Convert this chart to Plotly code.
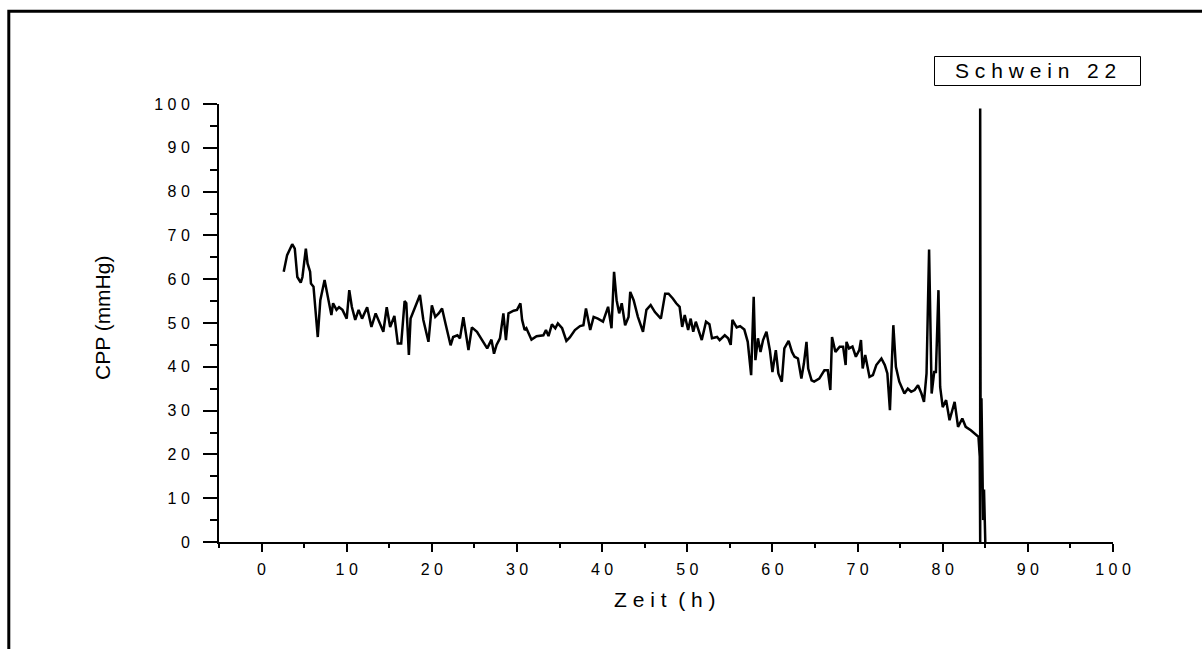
import plotly.graph_objects as go

# ---- data ----
zeit_h = [2.6, 3.0, 3.6, 3.9, 4.2, 4.6, 4.8, 5.2, 5.4, 5.7,
          5.8, 6.1, 6.6, 6.9, 7.4, 7.8, 8.2, 8.4, 8.8, 9.1,
          9.5, 10.0, 10.3, 10.6, 11.0, 11.4, 11.8, 12.4, 12.9, 13.4,
          13.8, 14.3, 14.7, 15.1, 15.6, 16.0, 16.4, 16.8, 17.0, 17.3,
          17.5, 18.6, 19.0, 19.6, 20.0, 20.4, 20.8, 21.2, 21.6, 22.2,
          22.5, 23.0, 23.3, 23.7, 24.3, 24.7, 25.3, 26.1, 26.5, 27.0,
          27.3, 27.6, 28.0, 28.4, 28.7, 29.0, 29.6, 30.0, 30.4, 30.6,
          30.9, 31.1, 31.7, 32.3, 33.1, 33.4, 33.7, 34.1, 34.5, 34.8,
          35.3, 35.8, 36.2, 36.8, 37.4, 37.8, 38.1, 38.6, 39.0, 39.5,
          40.1, 40.7, 41.1, 41.4, 41.7, 42.0, 42.3, 42.7, 43.1, 43.3,
          43.7, 44.2, 44.8, 45.2, 45.7, 46.2, 46.9, 47.4, 47.8, 48.3,
          48.7, 49.1, 49.4, 49.7, 50.1, 50.4, 50.7, 51.0, 51.7, 52.2,
          52.6, 52.9, 53.5, 53.8, 54.4, 54.8, 55.1, 55.3, 55.8, 56.2,
          56.7, 57.1, 57.5, 57.8, 58.0, 58.3, 58.6, 58.9, 59.3, 59.7,
          60.0, 60.4, 60.7, 61.1, 61.4, 61.9, 62.3, 62.6, 63.0, 63.4,
          63.7, 64.0, 64.2, 64.6, 64.9, 65.5, 66.1, 66.5, 66.8, 67.0,
          67.4, 67.9, 68.3, 68.6, 68.7, 69.0, 69.4, 69.8, 70.2, 70.4,
          70.6, 70.9, 71.4, 71.8, 72.2, 72.8, 73.2, 73.5, 73.8, 74.2,
          74.5, 74.9, 75.5, 75.9, 76.3, 76.7, 77.1, 77.5, 77.8, 78.1,
          78.4, 78.7, 79.0, 79.2, 79.5, 79.7, 80.0, 80.4, 80.8, 81.4,
          81.8, 82.3, 82.7, 83.3, 83.7, 84.2, 84.35, 84.4, 84.4, 84.45,
          84.55, 84.65, 84.75, 84.85, 84.95, 85.0]

cpp_mmhg = [61.7, 65.5, 68.0, 67.0, 60.5, 59.2, 60.5, 67.0, 63.6, 61.7,
            59.0, 58.3, 46.8, 55.2, 59.8, 56.0, 51.8, 54.5, 53.0, 53.6,
            53.0, 51.0, 57.5, 53.7, 50.7, 53.0, 51.0, 53.6, 49.1, 52.2,
            50.3, 48.0, 53.6, 49.1, 51.6, 45.3, 45.3, 55.0, 54.5, 42.7,
            51.0, 56.4, 50.7, 45.7, 54.0, 51.4, 52.2, 53.3, 49.9, 44.9,
            46.8, 47.2, 46.5, 51.3, 43.8, 49.0, 48.0, 45.3, 44.2, 46.2,
            43.0, 45.0, 46.5, 52.2, 46.1, 52.2, 52.8, 53.0, 54.5, 50.7,
            48.4, 48.8, 46.2, 47.0, 47.2, 48.4, 47.0, 49.7, 48.8, 49.9,
            48.8, 45.9, 46.7, 48.4, 49.3, 49.5, 53.3, 48.4, 51.4, 51.0,
            50.3, 53.7, 48.8, 61.7, 55.2, 52.2, 54.5, 49.5, 51.4, 57.1,
            55.2, 51.4, 48.0, 53.0, 54.1, 52.5, 51.0, 56.7, 56.7, 55.6,
            54.5, 53.7, 49.1, 51.8, 48.4, 51.0, 48.0, 50.3, 46.1, 50.3,
            49.7, 46.5, 46.8, 46.1, 47.2, 46.5, 45.0, 50.7, 49.0, 49.3,
            48.5, 45.7, 38.1, 56.0, 41.5, 46.5, 43.4, 46.1, 48.0, 43.8,
            38.8, 43.8, 38.5, 36.6, 44.2, 45.9, 43.4, 42.3, 41.9, 37.3,
            40.8, 45.7, 39.6, 36.9, 36.6, 37.3, 39.2, 39.2, 34.7, 46.8,
            43.4, 44.6, 44.6, 40.4, 45.7, 44.2, 44.6, 42.3, 43.8, 46.1,
            39.6, 42.7, 37.7, 38.1, 40.4, 41.9, 40.4, 38.5, 30.1, 49.5,
            40.0, 36.6, 33.9, 35.0, 34.3, 34.7, 35.8, 33.9, 32.0, 38.5,
            66.8, 33.9, 38.8, 38.8, 57.5, 35.4, 30.8, 32.4, 27.8, 32.0,
            26.3, 28.2, 26.3, 25.5, 24.8, 24.0, 19.5, 0.0, 99.0, 22.0,
            32.8, 20.0, 5.0, 12.0, 0.0, 0.0]

x_tick_vals = [0, 10, 20, 30, 40, 50, 60, 70, 80, 90, 100]
x_tick_text = ["0", "1 0", "2 0", "3 0", "4 0", "5 0", "6 0", "7 0", "8 0", "9 0", "1 0 0"]
y_tick_vals = [0, 10, 20, 30, 40, 50, 60, 70, 80, 90, 100]
y_tick_text = ["0", "1 0", "2 0", "3 0", "4 0", "5 0", "6 0", "7 0", "8 0", "9 0", "1 0 0"]

x_title = "Z e i t  ( h )"
y_title = "CPP (mmHg)"
legend_label = "S c h w e i n\u00a0\u00a0 2 2"

FONT = "Arial, Liberation Sans, sans-serif"

fig = go.Figure()
fig.add_trace(go.Scatter(x=zeit_h, y=cpp_mmhg, mode="lines",
                         line=dict(color="black", width=2.5),
                         showlegend=False, hoverinfo="skip"))

W, H = 1202, 649
L, R, T, B = 219, 89, 104, 107
pw, ph = W - L - R, H - T - B

def px_to_paper_x(px):
    return (px - L) / pw

def px_to_paper_y(py):
    return (H - B - py) / ph

fig.update_layout(
    width=W, height=H,
    margin=dict(l=L, r=R, t=T, b=B, pad=0),
    paper_bgcolor="white", plot_bgcolor="white",
    font=dict(family=FONT, color="black"),
    xaxis=dict(range=[-5, 100], showgrid=False, zeroline=False,
               showline=True, linecolor="black", linewidth=2,
               ticks="outside", ticklen=8, tickwidth=2, tickcolor="black",
               tickvals=x_tick_vals, ticktext=x_tick_text,
               tickfont=dict(size=16, family=FONT, color="black"),
               ticklabelstandoff=4,
               minor=dict(ticks="outside", ticklen=4, tickwidth=2,
                          tickcolor="black", tick0=0, dtick=5, showgrid=False),
               fixedrange=True),
    yaxis=dict(range=[0, 100], showgrid=False, zeroline=False,
               showline=True, linecolor="black", linewidth=2,
               ticks="outside", ticklen=14, tickwidth=2, tickcolor="black",
               tickvals=y_tick_vals, ticktext=y_tick_text,
               tickfont=dict(size=16, family=FONT, color="black"),
               ticklabelstandoff=10,
               minor=dict(ticks="outside", ticklen=7, tickwidth=2,
                          tickcolor="black", tick0=0, dtick=5, showgrid=False),
               fixedrange=True),
    shapes=[
        # outer frame (only left and top edges visible)
        dict(type="rect", xref="paper", yref="paper",
             x0=px_to_paper_x(8.8), x1=1.4, y0=-0.6, y1=px_to_paper_y(11.3),
             line=dict(color="black", width=3), fillcolor="rgba(0,0,0,0)", layer="above"),
        # legend box
        dict(type="rect", xref="paper", yref="paper",
             x0=px_to_paper_x(934.5), x1=px_to_paper_x(1140.5),
             y0=px_to_paper_y(85.5), y1=px_to_paper_y(56.5),
             line=dict(color="black", width=1), fillcolor="white", layer="above"),
    ],
    annotations=[
        dict(text=legend_label, xref="paper", yref="paper",
             x=px_to_paper_x(1035), y=px_to_paper_y(71),
             xanchor="center", yanchor="middle", showarrow=False,
             font=dict(size=21, family=FONT, color="black")),
        dict(text=x_title, xref="paper", yref="paper",
             x=px_to_paper_x(665), y=px_to_paper_y(599),
             xanchor="center", yanchor="middle", showarrow=False,
             font=dict(size=21, family=FONT, color="black")),
        dict(text=y_title, xref="paper", yref="paper",
             x=px_to_paper_x(102), y=px_to_paper_y(318),
             xanchor="center", yanchor="middle", showarrow=False, textangle=-90,
             font=dict(size=21, family=FONT, color="black")),
    ],
)

fig.write_html("out.html", config={"displayModeBar": False})
